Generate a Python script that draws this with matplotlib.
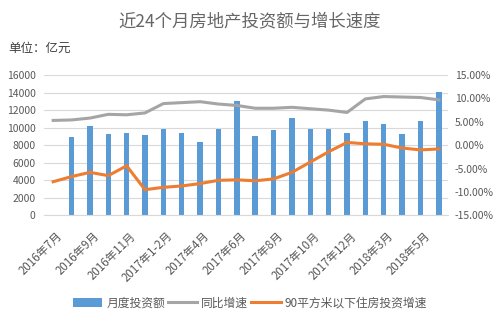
import numpy as np
import matplotlib.pyplot as plt
import matplotlib.transforms as mtransforms

plt.rcParams['font.family'] = ['Noto Sans CJK SC', 'DejaVu Sans']

months = ["2016年7月", "2016年8月", "2016年9月", "2016年10月", "2016年11月", "2016年12月",
          "2017年1-2月", "2017年3月", "2017年4月", "2017年5月", "2017年6月", "2017年7月",
          "2017年8月", "2017年9月", "2017年10月", "2017年11月", "2017年12月",
          "2018年1-2月", "2018年3月", "2018年4月", "2018年5月", "2018年6月"]
invest = [np.nan, 8950, 10200, 9290, 9400, 9170, 9860, 9400, 8420, 9860, 13040, 9060,
          9740, 11110, 9860, 9860, 9400, 10770, 10430, 9290, 10770, 14100]
yoy = [5.3, 5.4, 5.8, 6.6, 6.5, 6.9, 8.9, 9.1, 9.3, 8.8, 8.5, 7.9,
       7.9, 8.1, 7.8, 7.5, 7.0, 9.9, 10.4, 10.3, 10.2, 9.7]
small = [-7.8, -6.7, -5.8, -6.5, -4.4, -9.5, -9.0, -8.7, -8.2, -7.5, -7.4, -7.6,
         -7.2, -5.8, -3.6, -1.4, 0.6, 0.3, 0.2, -0.6, -1.0, -0.8]

txt = '#595959'
fig = plt.figure(figsize=(5, 3.22), dpi=100)
ax = fig.add_axes([0.088, 0.331, 0.808, 0.436])
x = np.arange(len(months))

b = ax.bar(x, invest, width=0.3, color='#5B9BD5', zorder=2, label='月度投资额')
ax.set_ylim(0, 16000)
ax.set_yticks(range(0, 16001, 2000))
ax.set_xlim(-0.5, len(months) - 0.5)
ax.grid(axis='y', color='#D9D9D9', linewidth=0.8, zorder=0)
ax.set_axisbelow(True)
for s in ['top', 'right', 'left']:
    ax.spines[s].set_visible(False)
ax.spines['bottom'].set_color('#D9D9D9')
ax.tick_params(length=0, colors=txt, labelsize=7.5)
ax.tick_params(axis='y', pad=6)
ax.tick_params(axis='x', pad=10)
ax.set_xticks(x[::2])
ax.set_xticklabels(months[::2], rotation=45, ha='right', rotation_mode='anchor', fontsize=8.3)
off = mtransforms.ScaledTranslation(3 / 100, 0, fig.dpi_scale_trans)
for lab in ax.get_xticklabels():
    lab.set_transform(lab.get_transform() + off)

ax2 = ax.twinx()
l1, = ax2.plot(x, yoy, color='#A5A5A5', linewidth=2.2, label='同比增速')
l2, = ax2.plot(x, small, color='#ED7D31', linewidth=2.2, label='90平方米以下住房投资增速')
ax2.set_ylim(-15, 15)
ax2.set_yticks(range(-15, 16, 5))
ax2.set_yticklabels([f'{v:.2f}%' for v in range(-15, 16, 5)])
for s in ax2.spines.values():
    s.set_visible(False)
ax2.tick_params(length=0, colors=txt, labelsize=7.5, pad=5)

fig.text(0.5, 0.935, '近24个月房地产投资额与增长速度', ha='center', va='center', fontsize=12.5, color='#666666')
fig.text(0.016, 0.85, '单位：亿元', ha='left', va='center', fontsize=9, color='#404040')

fig.legend([b, l1, l2], ['月度投资额', '同比增速', '90平方米以下住房投资增速'],
           loc='center', bbox_to_anchor=(0.5, 0.059), ncol=3, frameon=False,
           fontsize=8.5, handlelength=2.5, columnspacing=0.25, handletextpad=0.33,
           labelcolor=txt)

fig.savefig('out.png', dpi=100)
